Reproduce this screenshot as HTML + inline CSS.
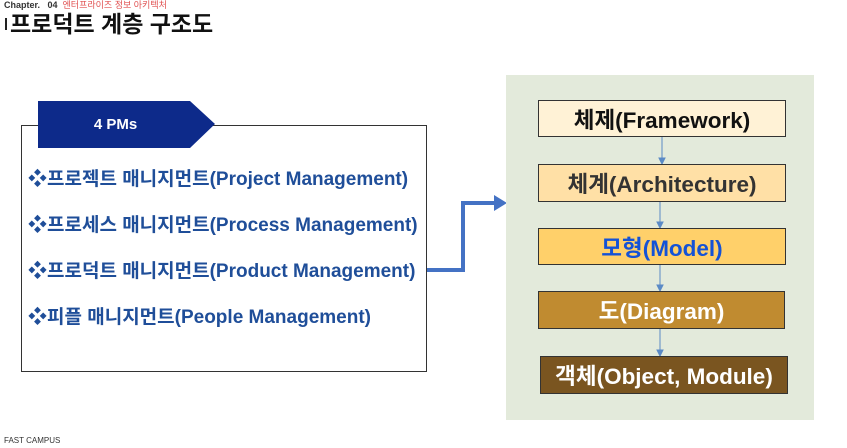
<!DOCTYPE html>
<html><head><meta charset="utf-8"><style>
body{margin:0;width:847px;height:448px;background:#fff;position:relative;overflow:hidden;font-family:"Liberation Sans","Noto Sans CJK KR",sans-serif}
.a{position:absolute}
.b{position:absolute;border:1.5px solid #333;box-sizing:border-box;display:flex;align-items:center;justify-content:center;font-weight:bold;font-size:22.5px}
.it{position:absolute;left:28px;font-size:19px;font-weight:bold;color:#1f4e99;white-space:nowrap}
</style></head><body>
<div class="a" style="left:4px;top:-2px;font-size:9px;font-weight:bold;color:#333">Chapter. &nbsp;&nbsp;04 <span style="color:#e05050;font-weight:normal">&nbsp;엔터프라이즈 정보 아키텍처</span></div>
<div class="a" style="left:5px;top:18px;width:2px;height:12px;background:#222"></div>
<div class="a" style="left:10px;top:5px;font-size:23px;font-weight:bold;color:#111">프로덕트 계층 구조도</div>
<div class="a" style="left:4px;top:436px;font-size:8px;color:#333">FAST CAMPUS</div>

<div class="a" style="left:21px;top:125px;width:406px;height:247px;border:1px solid #333;box-sizing:border-box"></div>
<svg class="a" style="left:0;top:0" width="847" height="448">
<polygon points="38,101 190,101 215,124 190,148 38,148" fill="#0d2a8a"/>
<polyline points="427,270 463,270 463,203 496,203" fill="none" stroke="#4472c4" stroke-width="4"/>
<polygon points="494,195 507,203 494,211" fill="#4472c4"/>
</svg>
<div class="a" style="left:38px;top:116px;width:155px;text-align:center;color:#fff;font-weight:bold;font-size:15px">4 PMs</div>
<div class="it" style="top:164px">❖프로젝트 매니지먼트(Project Management)</div>
<div class="it" style="top:210px">❖프로세스 매니지먼트(Process Management)</div>
<div class="it" style="top:256px">❖프로덕트 매니지먼트(Product Management)</div>
<div class="it" style="top:302px">❖피플 매니지먼트(People Management)</div>

<div class="a" style="left:506px;top:75px;width:308px;height:345px;background:#e3eadb"></div>
<svg class="a" style="left:0;top:0" width="847" height="448">
<g stroke="#5b8ac6" stroke-width="1" fill="#5b8ac6">
<line x1="662" y1="137" x2="662" y2="160"/><polygon points="659,158 665,158 662,164"/>
<line x1="660" y1="202" x2="660" y2="224"/><polygon points="657,222 663,222 660,228"/>
<line x1="660" y1="265" x2="660" y2="287"/><polygon points="657,285 663,285 660,291"/>
<line x1="660" y1="329" x2="660" y2="352"/><polygon points="657,350 663,350 660,356"/>
</g></svg>
<div class="b" style="left:538px;top:100px;width:248px;height:37px;background:#fff2d6;color:#111">체제(Framework)</div>
<div class="b" style="left:538px;top:164px;width:248px;height:38px;background:#ffe0a6;color:#333">체계(Architecture)</div>
<div class="b" style="left:538px;top:228px;width:248px;height:37px;background:#ffd06a;color:#1452d6">모형(Model)</div>
<div class="b" style="left:538px;top:291px;width:247px;height:38px;background:#c08b30;color:#fff">도(Diagram)</div>
<div class="b" style="left:540px;top:356px;width:248px;height:38px;background:#7a5520;color:#fff">객체(Object, Module)</div>
</body></html>
